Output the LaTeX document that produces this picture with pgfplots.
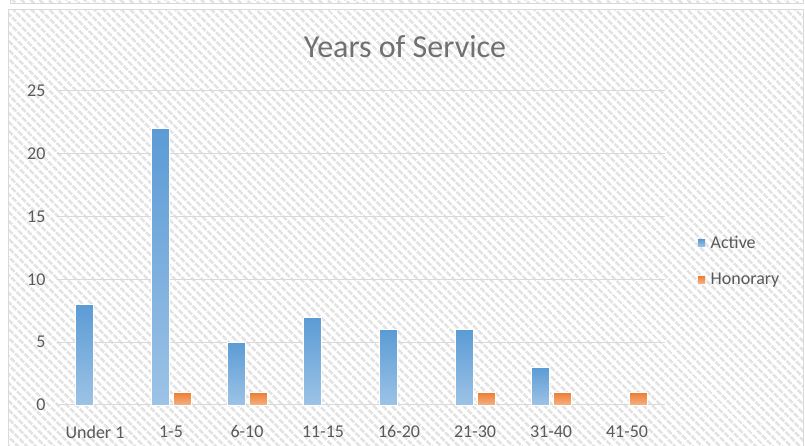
\documentclass[border=0pt]{standalone}
\usepackage{pgfplots}
\pgfplotsset{compat=1.18}
\usepackage{fontspec}
\setmainfont{Carlito}
\usetikzlibrary{patterns.meta}
\definecolor{bluetop}{HTML}{5B9BD5}
\definecolor{bluebot}{HTML}{9DC3E6}
\definecolor{orgtop}{HTML}{ED7D31}
\definecolor{orgbot}{HTML}{F4B183}
\definecolor{txtgray}{HTML}{595959}
\definecolor{titlegray}{HTML}{707070}
\definecolor{gridgray}{HTML}{D9D9D9}
\definecolor{hatch}{HTML}{E3E3E3}
\pgfplotsset{
  actbar/.style={ybar, bar width=18pt, bar shift=-11pt, draw=white, line width=0.9pt, top color=bluetop, bottom color=bluebot, forget plot},
  honbar/.style={ybar, bar width=18pt, bar shift=11pt, draw=white, line width=0.9pt, top color=orgtop, bottom color=orgbot, forget plot},
}
\newcommand\actbar[2]{\addplot[actbar] coordinates {(#1,#2)};}
\newcommand\honbar[2]{\addplot[honbar] coordinates {(#1,#2)};}
\begin{document}
\begin{tikzpicture}[x=1pt,y=1pt]
\path[use as bounding box] (0,0) rectangle (805,446);
\fill[white] (0,0) rectangle (805,446);
\fill[pattern={Lines[angle=-45,distance=6.5pt,line width=2.8pt]}, pattern color=hatch] (8,0) rectangle (803,436);
\draw[gridgray, line width=1pt] (8,-2) -- (8,436) -- (803,436) -- (803,-2);
\fill[pattern={Lines[angle=-45,distance=6.5pt,line width=2.8pt]}, pattern color=hatch] (10,442) rectangle (803,447);
\draw[gridgray, line width=1pt] (10,447) -- (10,442) -- (803,442) -- (803,447);
\begin{axis}[
  at={(57pt,41pt)}, anchor=south west,
  scale only axis, width=608pt, height=314pt,
  ymin=0, ymax=25, ytick={0,5,10,15,20,25},
  xmin=-0.5, xmax=7.5, xtick={0,...,7},
  xticklabels={Under 1,1-5,6-10,11-15,16-20,21-30,31-40,41-50},
  ymajorgrids, grid style={gridgray, line width=1pt},
  axis line style={draw=none}, major tick style={draw=none},
  ticklabel style={font=\fontsize{18}{21}\selectfont, text=txtgray},
  yticklabel style={xshift=-8pt},
  xticklabel style={yshift=-17pt},
  /pgf/number format/assume math mode=true,
  enlargelimits=false, clip=false,
  legend style={at={(1,0.458)}, anchor=west, xshift=30pt, draw=none, fill=none,
    font=\fontsize{18}{21}\selectfont, text=txtgray, row sep=19pt},
  legend cell align=left,
  legend image code/.code={\path[#1, draw=none] (0pt,-3.5pt) rectangle (7pt,3.5pt);},
]
\actbar{0}{8}
\actbar{1}{22}
\actbar{2}{5}
\actbar{3}{7}
\actbar{4}{6}
\actbar{5}{6}
\actbar{6}{3}
\honbar{1}{1}
\honbar{2}{1}
\honbar{5}{1}
\honbar{6}{1}
\honbar{7}{1}
\addlegendimage{top color=bluetop, bottom color=bluebot}
\addlegendimage{top color=orgtop, bottom color=orgbot}
\legend{\hspace{3.5pt}Active,\hspace{3.5pt}Honorary}
\end{axis}
\node[text=titlegray, font=\fontsize{32}{38}\selectfont] at (405,399) {Years of Service};
\end{tikzpicture}
\end{document}
